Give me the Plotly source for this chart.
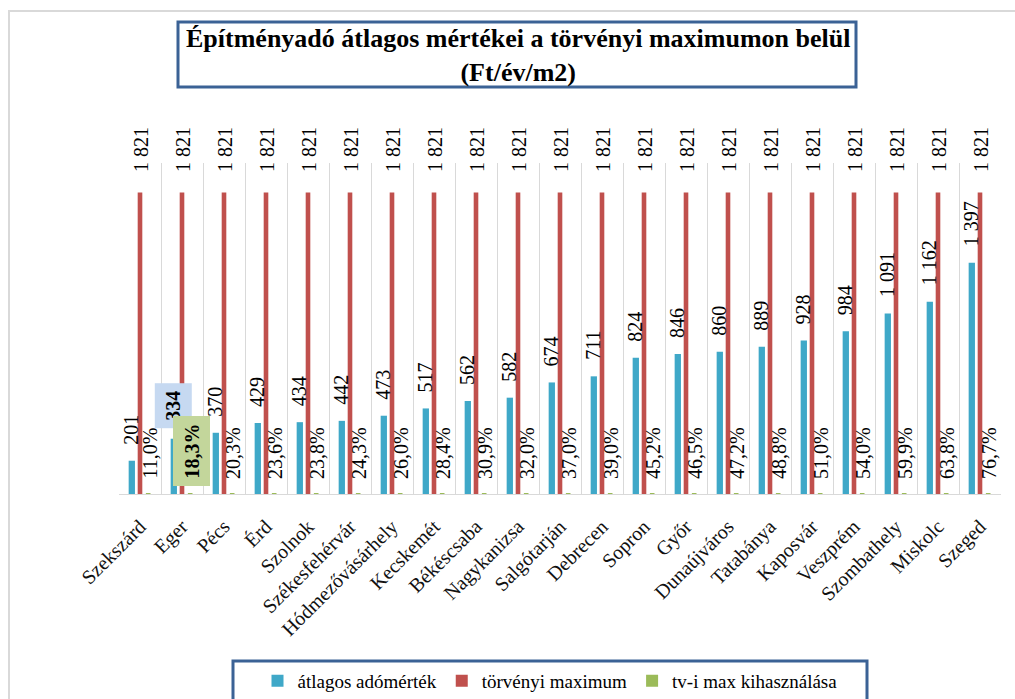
import plotly.graph_objects as go

cities = ["Szekszárd", "Eger", "Pécs", "Érd", "Szolnok", "Székesfehérvár",
          "Hódmezővásárhely", "Kecskemét", "Békéscsaba", "Nagykanizsa",
          "Salgótarján", "Debrecen", "Sopron", "Győr", "Dunaújváros",
          "Tatabánya", "Kaposvár", "Veszprém", "Szombathely", "Miskolc", "Szeged"]
atlagos = [201, 334, 370, 429, 434, 442, 473, 517, 562, 582, 674, 711,
           824, 846, 860, 889, 928, 984, 1091, 1162, 1397]
maximum = [1821] * 21
kihasznalas = [11.0, 18.3, 20.3, 23.6, 23.8, 24.3, 26.0, 28.4, 30.9, 32.0, 37.0,
               39.0, 45.2, 46.5, 47.2, 48.8, 51.0, 54.0, 59.9, 63.8, 76.7]

BLUE = "#3fa8c8"
RED = "#c0504d"
GREEN = "#9bbb59"
FRAME = "#3b6295"
SERIF = "Liberation Serif, Times New Roman, serif"

# plot area on screen: x 119..1001, y 163..494 (body margin removed below)
W, H = 1015, 699
L, T, R, B = 119, 163, 14, 699 - 494
PW, PH = W - L - R, H - T - B


def px(x):
    # screen pixel -> paper coord
    return (x - L) / PW


def py(y):
    return (H - B - y) / PH


def num(v):
    return f"{v:,}".replace(",", " ")


fig = go.Figure()
fig.add_trace(go.Bar(x=cities, y=atlagos, name="átlagos adómérték",
                     marker=dict(color=BLUE, line=dict(width=0)),
                     width=0.15, offset=-0.27))
fig.add_trace(go.Bar(x=cities, y=maximum, name="törvényi maximum",
                     marker=dict(color=RED, line=dict(width=0)),
                     width=0.11, offset=-0.055))
fig.add_trace(go.Bar(x=cities, y=[p / 100 for p in kihasznalas],
                     name="tv-i max kihasználása",
                     marker=dict(color=GREEN, line=dict(width=0)),
                     width=0.11, offset=0.14))

ann = []
for i, c in enumerate(cities):
    hl = c == "Eger"
    ann.append(dict(x=c, y=atlagos[i], xref="x", yref="y", text=num(atlagos[i]),
                    textangle=-90, showarrow=False, xanchor="center", yanchor="bottom",
                    xshift=-9, yshift=10 if hl else 15,
                    font=dict(family=SERIF, size=20, color="#000",
                              weight="bold" if hl else "normal"),
                    bgcolor="#c6d9f1" if hl else None, borderpad=7 if hl else 0))
    ann.append(dict(x=c, y=maximum[i], xref="x", yref="y", text=num(maximum[i]),
                    textangle=-90, showarrow=False, xanchor="center", yanchor="bottom",
                    xshift=1, yshift=18,
                    font=dict(family=SERIF, size=20, color="#000")))
    ann.append(dict(x=c, y=0, xref="x", yref="y",
                    text=f"{kihasznalas[i]:.1f}%".replace(".", ","),
                    textangle=-90, showarrow=False, xanchor="center", yanchor="bottom",
                    xshift=9, yshift=7 if hl else 14,
                    font=dict(family=SERIF, size=20, color="#000",
                              weight="bold" if hl else "normal"),
                    bgcolor="#c3d69b" if hl else None, borderpad=7 if hl else 0))

ann.append(dict(xref="paper", yref="paper", x=px(518), y=py(55),
                text="<b>Építményadó átlagos mértékei a törvényi maximumon belül<br>(Ft/év/m2)</b>",
                showarrow=False, xanchor="center", yanchor="middle",
                font=dict(family=SERIF, size=26, color="#000")))

shapes = [
    dict(type="rect", xref="paper", yref="paper", x0=px(9), x1=px(1030),
         y0=py(720), y1=py(11), line=dict(color="#d9d9d9", width=2), layer="below"),
    dict(type="rect", xref="paper", yref="paper", x0=px(178), x1=px(856),
         y0=py(87), y1=py(22), line=dict(color=FRAME, width=3)),
    dict(type="rect", xref="paper", yref="paper", x0=px(233), x1=px(867),
         y0=py(710), y1=py(661), line=dict(color=FRAME, width=3)),
]

fig.update_layout(
    width=W, height=H,
    margin=dict(l=L, r=R, t=T, b=B, autoexpand=False),
    paper_bgcolor="white", plot_bgcolor="white",
    barmode="overlay",
    showlegend=True,
    legend=dict(orientation="h", x=px(550), y=py(681), xanchor="center", yanchor="middle",
                font=dict(family=SERIF, size=19, color="#000"),
                bgcolor="rgba(0,0,0,0)", itemwidth=30, tracegroupgap=0),
    xaxis=dict(type="category", tickson="boundaries", showgrid=True,
               gridcolor="#d9d9d9", gridwidth=1, showline=True, linecolor="#d9d9d9",
               linewidth=1, ticks="", tickangle=-45, ticklabelstandoff=12,
               tickfont=dict(family=SERIF, size=20, color="#111"),
               range=[-0.5, 20.5], fixedrange=True, automargin=False),
    yaxis=dict(range=[0, 2000], visible=False, showgrid=False, fixedrange=True),
    annotations=ann,
    shapes=shapes,
)

fig.write_html("out.html", config={"displayModeBar": False},
               post_script="document.body.style.margin='0';document.body.style.overflow='hidden';")
